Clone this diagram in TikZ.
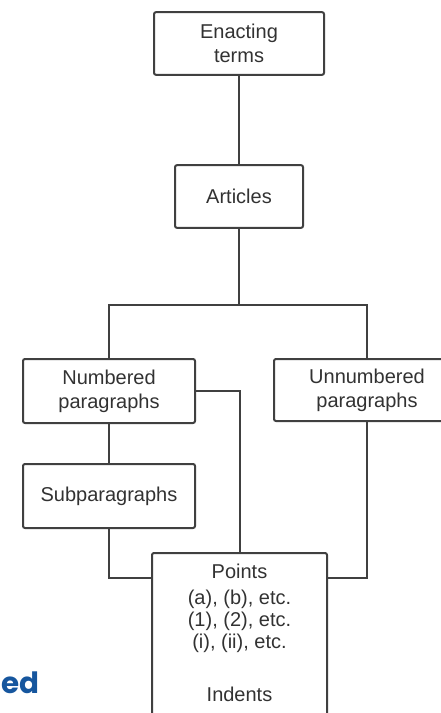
\documentclass[tikz,border=0pt]{standalone}
\usepackage{fontspec}
\setmainfont{Liberation Sans}
\newfontfamily\edfont{Poppins}
\definecolor{boxline}{RGB}{64,64,64}
\definecolor{txtgray}{RGB}{50,50,50}
\definecolor{edblue}{RGB}{22,86,158}
\tikzset{every picture/.style={line width=1.5pt}}
\tikzset{
  tbox/.style={draw=boxline, rounded corners=1.5pt, align=center, inner sep=0.75pt,
    text=txtgray, font=\fontsize{15}{18}\selectfont},
  link/.style={draw=boxline, line width=1.5pt}
}

\begin{document}
\begin{tikzpicture}[x=0.75pt,y=0.75pt,yscale=-1,xscale=1]
\useasboundingbox (0,0) rectangle (441,713);

%Shape: Rectangle [enacting terms]
\node [tbox, minimum width=127.5pt, minimum height=47pt] (enact) at (239,43.5) {Enacting\\terms};
%Shape: Rectangle [articles]
\node [tbox, minimum width=96pt, minimum height=47pt] (art) at (239,196.5) {Articles};
%Shape: Rectangle [numbered]
\node [tbox, minimum width=129pt, minimum height=48pt] (num) at (109,391) {Numbered\\paragraphs};
%Shape: Rectangle [unnumbered]
\node [tbox, minimum width=139.5pt, minimum height=46.5pt] (unnum) at (367,390) {Unnumbered\\paragraphs};
%Shape: Rectangle [subparagraphs]
\node [tbox, minimum width=129pt, minimum height=48pt] (sub) at (109,496) {Subparagraphs};
%Shape: Rectangle [points]
\draw [draw=boxline, rounded corners=1.5pt] (152,740) |- (327,553) -- (327,740);
\node [anchor=north, align=center, inner sep=0pt, text=txtgray,
  font=\fontsize{15}{16.5}\selectfont] (pts) at (239.5,563) {Points\\[3pt](a), (b), etc.\\(1), (2), etc.\\(i), (ii), etc.\\[23pt]Indents};

% Connectors
\coordinate (bus) at (239,305);
\coordinate (ptstop) at (239.5,553);
\coordinate (ptsL) at (152,578);
\coordinate (ptsR) at (327,578);
\draw [link] (enact) -- (art);
\draw [link] (art) -- (bus);
\draw [link] (num.north) |- (bus) -| (unnum.north);
\draw [link] (num.east) -| (ptstop);
\draw [link] (num) -- (sub);
\draw [link] (sub.south) |- (ptsL);
\draw [link] (unnum.south) |- (ptsR);

% Text Node
\node [anchor=base west, inner sep=0pt, text=edblue, font=\edfont\bfseries\fontsize{22}{22}\selectfont] (ed) at (0.5,693) {ed};

\end{tikzpicture}
\end{document}
